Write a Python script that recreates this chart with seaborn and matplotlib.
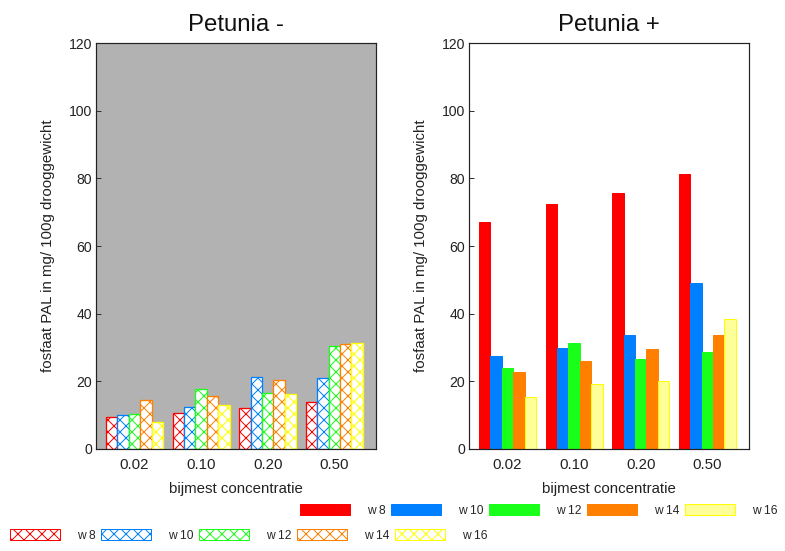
import matplotlib
matplotlib.use("Agg")
import matplotlib.pyplot as plt
import seaborn as sns
import pandas as pd
from matplotlib.patches import Patch

# ---- data ----
concentrations = ["0.02", "0.10", "0.20", "0.50"]
weeks = ["w 8", "w 10", "w 12", "w 14", "w 16"]

petunia_min_w8 = [9.6, 10.6, 12.1, 13.9]
petunia_min_w10 = [10.1, 12.5, 21.3, 21.1]
petunia_min_w12 = [10.4, 17.6, 16.6, 30.3]
petunia_min_w14 = [14.5, 15.6, 20.3, 30.9]
petunia_min_w16 = [8.0, 12.9, 16.2, 31.3]

petunia_plus_w8 = [67.1, 72.5, 75.6, 81.4]
petunia_plus_w10 = [27.5, 29.8, 33.8, 49.0]
petunia_plus_w12 = [23.9, 31.3, 26.7, 28.7]
petunia_plus_w14 = [22.9, 26.0, 29.5, 33.8]
petunia_plus_w16 = [15.5, 19.3, 20.0, 38.5]

y_ticks = [0, 20, 40, 60, 80, 100, 120]

edge_colors = ["#ff0000", "#0080ff", "#1aff1a", "#ff8000", "#ffff00"]
fill_colors = ["#ff0000", "#0080ff", "#1aff1a", "#ff8000", "#ffff99"]


def long_df(series):
    rows = []
    for wk, vals in zip(weeks, series):
        for c, v in zip(concentrations, vals):
            rows.append({"conc": c, "week": wk, "value": v})
    return pd.DataFrame(rows)


df_min = long_df([petunia_min_w8, petunia_min_w10, petunia_min_w12,
                  petunia_min_w14, petunia_min_w16])
df_plus = long_df([petunia_plus_w8, petunia_plus_w10, petunia_plus_w12,
                   petunia_plus_w14, petunia_plus_w16])

sns.set_theme(style="white")
plt.rcParams["font.family"] = ["Liberation Sans", "DejaVu Sans"]
plt.rcParams["hatch.linewidth"] = 1.0

W, H = 785, 551
fig = plt.figure(figsize=(W / 72, H / 72), dpi=72)
fig.patch.set_facecolor("white")

ax1 = fig.add_axes([96 / W, (H - 449) / H, 280 / W, 406 / H])
ax2 = fig.add_axes([469 / W, (H - 449) / H, 280 / W, 406 / H])

ylabel = "fosfaat PAL in mg/ 100g drooggewicht"
xlabel = "bijmest concentratie"

for ax, df, title in [(ax1, df_min, "Petunia -"), (ax2, df_plus, "Petunia +")]:
    sns.barplot(data=df, x="conc", y="value", hue="week", hue_order=weeks,
                order=concentrations, palette=fill_colors, saturation=1,
                width=0.855, ax=ax, legend=False, errorbar=None)
    ax.set_ylim(0, 120)
    ax.set_xlim(-0.578, 3.626)
    ax.set_yticks(y_ticks)
    ax.set_yticklabels([str(t) for t in y_ticks], fontsize=14)
    ax.tick_params(axis="y", direction="in", length=5, width=1, color="#333333",
                   left=True, right=False, pad=4, labelcolor="#222222")
    ax.tick_params(axis="x", length=0, pad=9, labelsize=15, labelcolor="#222222")
    ax.set_xlabel(xlabel, fontsize=15, labelpad=10, color="#222222")
    ax.set_ylabel(ylabel, fontsize=15, labelpad=14, color="#222222")
    ax.set_title(title, fontsize=24, pad=12, color="#111111")
    for s in ax.spines.values():
        s.set_visible(True)
        s.set_color("#222222")
        s.set_linewidth(1.2)

ax1.set_facecolor("#b2b2b2")
for i, cont in enumerate(ax1.containers):
    for p in cont:
        p.set_facecolor("white")
        p.set_edgecolor(edge_colors[i])
        p.set_hatch("xx")
        p.set_linewidth(1.3)

for i, cont in enumerate(ax2.containers):
    for p in cont:
        p.set_facecolor(fill_colors[i])
        p.set_edgecolor(edge_colors[i] if i == 4 else fill_colors[i])
        p.set_linewidth(1.0)

# ---- legends ----
solid_handles = [Patch(facecolor=fill_colors[i],
                       edgecolor=edge_colors[i] if i == 4 else fill_colors[i])
                 for i in range(5)]
hatch_handles = [Patch(facecolor="white", edgecolor=edge_colors[i], hatch="xx")
                 for i in range(5)]

fs = 12
leg_kw = dict(ncol=5, frameon=False, fontsize=fs, handlelength=50 / fs,
              handleheight=13 / fs, handletextpad=17 / fs, columnspacing=0.45,
              borderpad=0, borderaxespad=0, loc="upper left")
fig.legend(solid_handles, weeks, bbox_to_anchor=(300 / W, 1 - 504 / H), **leg_kw)
fig.legend(hatch_handles, weeks, bbox_to_anchor=(10 / W, 1 - 529 / H), **leg_kw)

fig.savefig("out.png", dpi=72, facecolor="white")
